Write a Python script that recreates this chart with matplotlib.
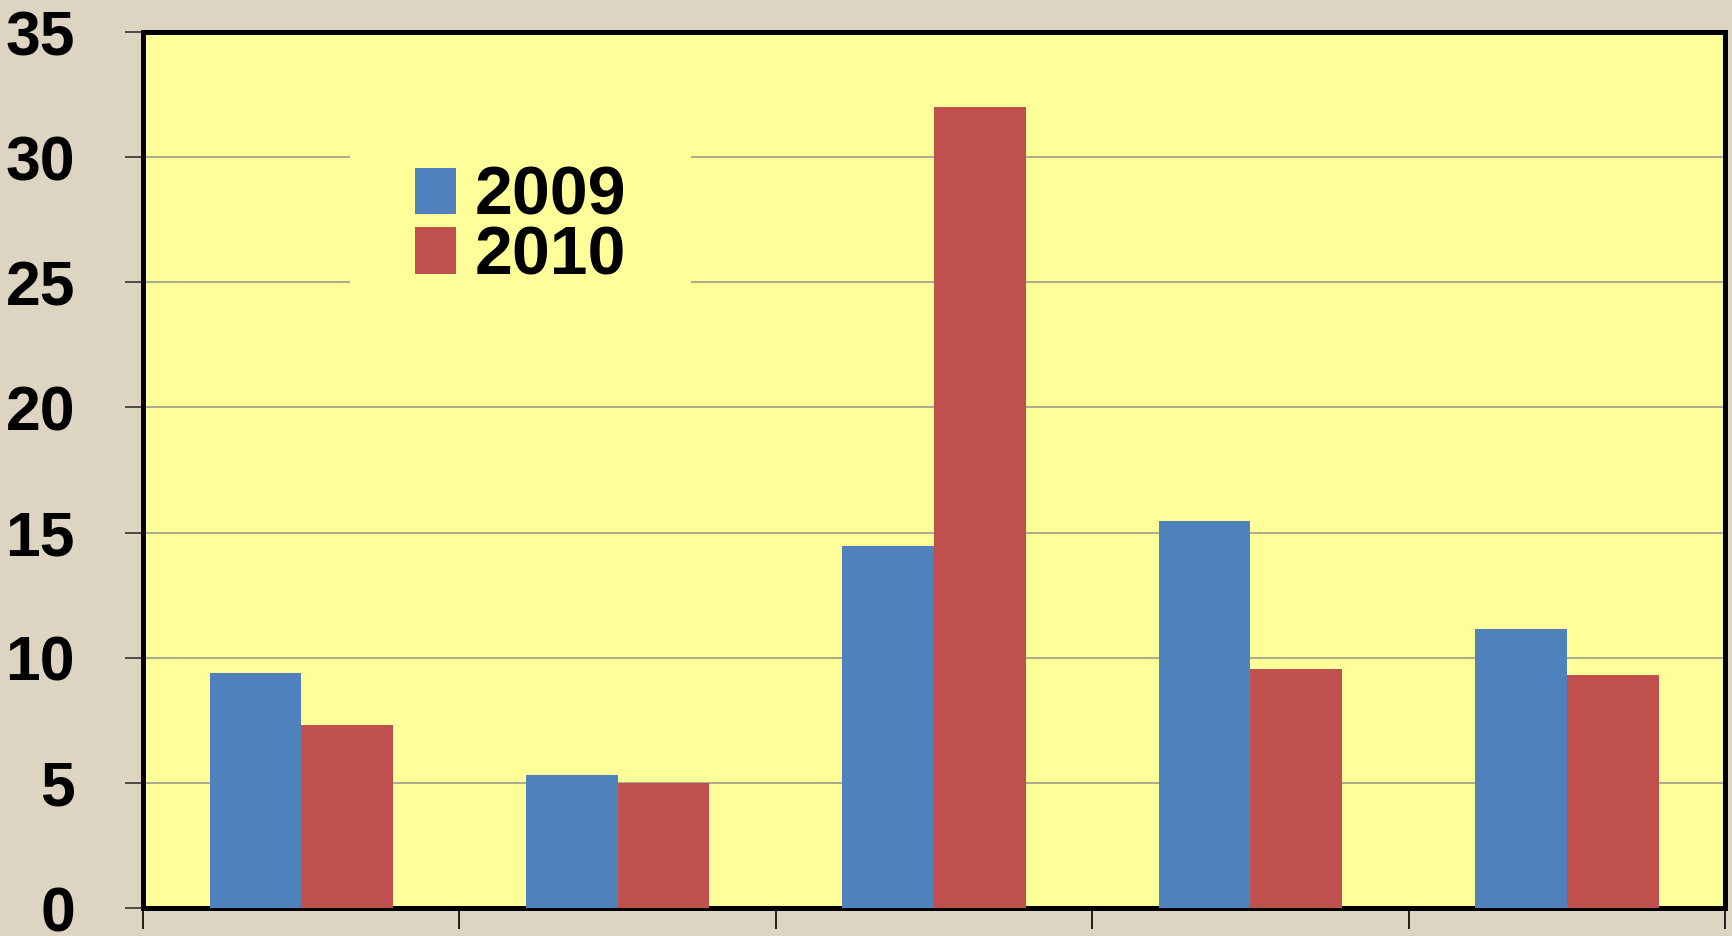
import matplotlib
matplotlib.use("Agg")
import matplotlib.pyplot as plt
import numpy as np

# data
categories = ["A", "B", "C", "D", "E"]
series_names = ["2009", "2010"]
values_2009 = [9.4, 5.3, 14.45, 15.45, 11.15]
values_2010 = [7.3, 5.0, 32.0, 9.55, 9.3]
y_ticks = [0, 5, 10, 15, 20, 25, 30, 35]

blue = "#4F81BD"
red = "#C0504D"
yellow = "#FFFF99"
linen = "#DDD4C1"

plt.rcParams["font.family"] = ["Liberation Sans", "DejaVu Sans"]
plt.rcParams["font.weight"] = "bold"

fig = plt.figure(figsize=(17.32, 9.36), dpi=100)
fig.patch.set_facecolor(linen)
ax = fig.add_axes([0.0826, 0.0299, 0.9134, 0.9359])
ax.set_facecolor(yellow)

x = np.arange(len(categories))
width = 0.29
ax.bar(x - width / 2, values_2009, width, color=blue, label=series_names[0], zorder=3)
ax.bar(x + width / 2, values_2010, width, color=red, label=series_names[1], zorder=3)

ax.set_xlim(-0.5, len(categories) - 0.5)
ax.set_ylim(0, 35)
ax.set_yticks(y_ticks)
ax.set_yticklabels([str(t) for t in y_ticks])
ax.set_xticks(np.arange(len(categories) + 1) - 0.5)
ax.set_xticklabels([])

ax.set_axisbelow(True)
ax.yaxis.grid(True, color="#9C9C8C", linewidth=1.2)
ax.xaxis.grid(False)

for s in ax.spines.values():
    s.set_linewidth(3.6)
    s.set_color("black")

ax.tick_params(axis="y", direction="out", length=13, width=1.2, color="#333333",
               pad=36, labelsize=45)
ax.tick_params(axis="x", direction="out", length=15, width=1.2, color="black")
for lbl in ax.get_yticklabels():
    lbl.set_fontweight("bold")

leg = ax.legend(loc="upper left", bbox_to_anchor=(0.131, 0.922),
                prop={"weight": "bold", "size": 49},
                handlelength=0.6, handleheight=0.67, handletextpad=0.28,
                labelspacing=-0.07, borderpad=0.95, borderaxespad=0,
                frameon=True, fancybox=False)
leg.get_frame().set_facecolor(yellow)
leg.get_frame().set_edgecolor("none")
leg.get_frame().set_alpha(1)

fig.savefig("out.png", dpi=100, facecolor=fig.get_facecolor())
